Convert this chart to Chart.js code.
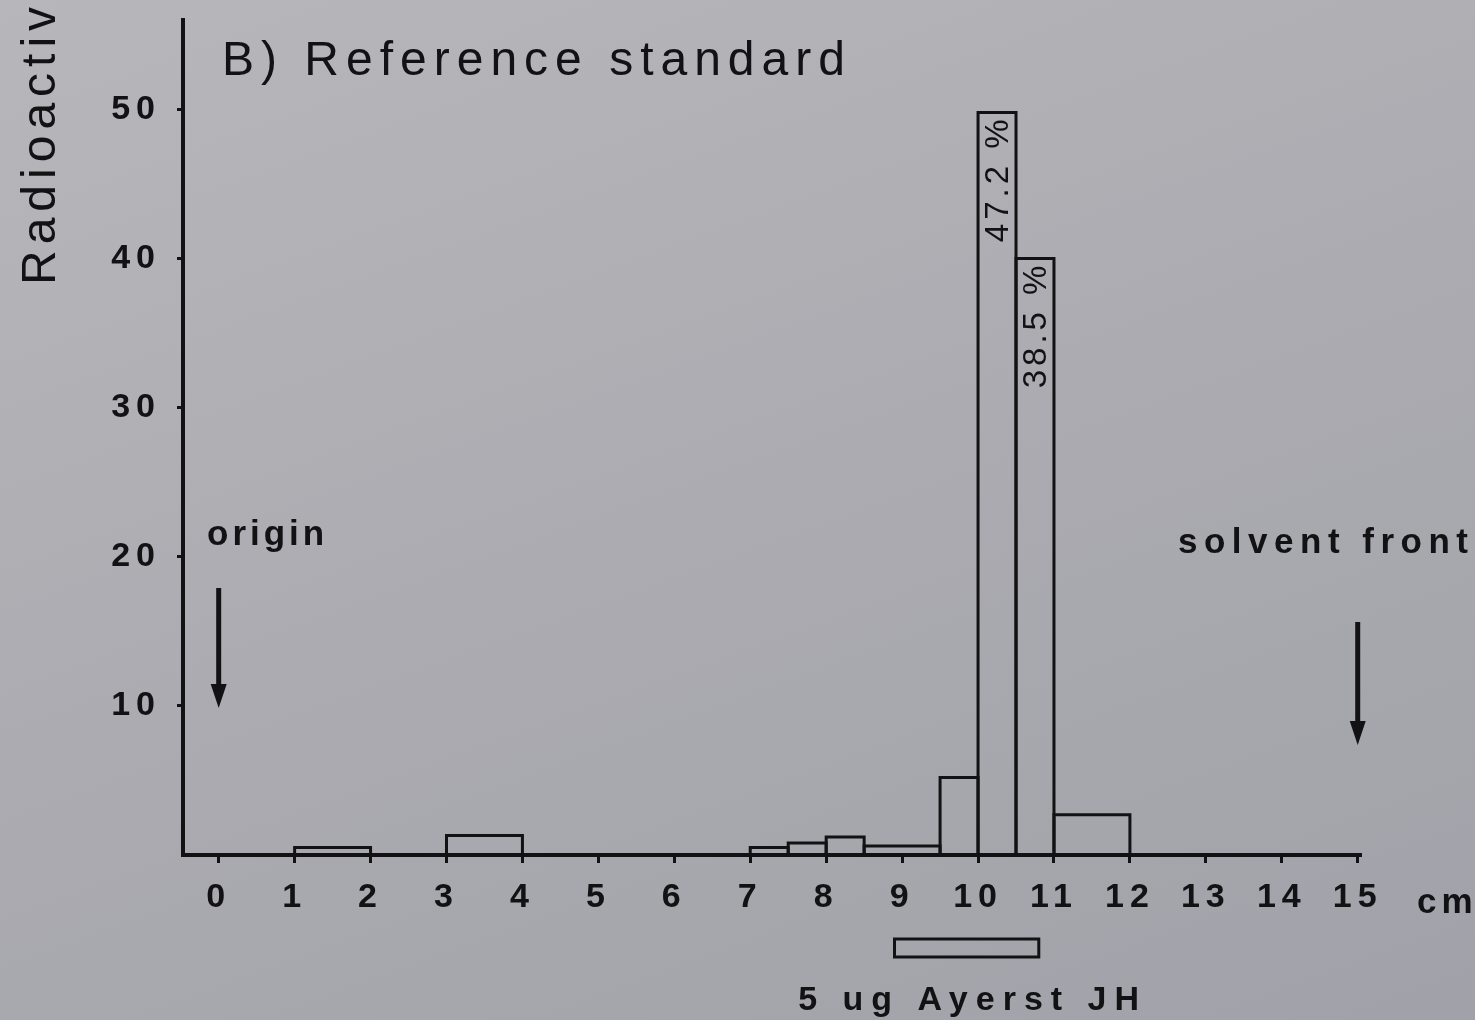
<!DOCTYPE html>
<html>
<head>
<meta charset="utf-8">
<script src="https://cdn.jsdelivr.net/npm/chart.js@4.4.1/dist/chart.umd.min.js"></script>
<style>
  html, body { margin: 0; padding: 0; }
  body { width: 1475px; height: 1020px; overflow: hidden;
         background: linear-gradient(160deg, #b7b7bb 0%, #ababb1 50%, #a1a1a9 100%); }
  #wrap { position: relative; width: 1475px; height: 1020px; }
</style>
</head>
<body>
<div id="wrap"><canvas id="c"></canvas></div>
<script>
// ---- data ----
const binStart = [1, 3, 7, 7.5, 8, 8.5, 9.5, 10, 10.5, 11];
const binEnd   = [2, 4, 7.5, 8, 8.5, 9.5, 10, 10.5, 11, 12];
const radioactivity = [0.5, 1.3, 0.5, 0.8, 1.2, 0.6, 5.2, 49.8, 40.0, 2.7];
const peakLabels = ['', '', '', '', '', '', '', '47.2 %', '38.5 %', ''];
const xTicks = [0, 1, 2, 3, 4, 5, 6, 7, 8, 9, 10, 11, 12, 13, 14, 15];
const yTicks = [10, 20, 30, 40, 50];
const standardBand = [8.9, 10.8];     // "5 ug Ayerst JH" marker (cm)
const originPos = 0;                  // cm
const solventFrontPos = 15;           // cm

const titleText = 'B) Reference standard';
const yTitleText = 'Radioactivity (%)';
const bandText = '5 ug Ayerst JH';
const unitText = 'cm';

// ---- styling ----
const ink = '#121214';
const fam = '"Liberation Sans", Arial, Helvetica, sans-serif';

const datasets = binStart.map((s, i) => {
  const e = binEnd[i], v = radioactivity[i];
  return {
    data: [{x: s, y: 0}, {x: s, y: v}, {x: e, y: v}, {x: e, y: 0}],
    showLine: true, borderColor: ink, borderWidth: 3, pointRadius: 0,
    fill: false, tension: 0, clip: 6, borderJoinStyle: 'miter'
  };
});

function arrow(ctx, px, yTop, yTip) {
  ctx.lineWidth = 5;
  ctx.beginPath(); ctx.moveTo(px, yTop); ctx.lineTo(px, yTip - 18); ctx.stroke();
  ctx.beginPath(); ctx.moveTo(px - 8, yTip - 24); ctx.lineTo(px + 8, yTip - 24); ctx.lineTo(px, yTip); ctx.closePath(); ctx.fill();
}

const annot = {
  id: 'annot',
  beforeDraw(chart) { chart.ctx.letterSpacing = '6px'; },
  afterDraw(chart) {
    const {ctx, scales: {x, y}, chartArea} = chart;
    ctx.save();
    ctx.fillStyle = ink; ctx.strokeStyle = ink;
    ctx.textBaseline = 'alphabetic';

    // title
    ctx.letterSpacing = '7px';
    ctx.font = '48px ' + fam; ctx.textAlign = 'left';
    ctx.fillText(titleText, 222, 75);

    // y title (rotated, cut at top)
    ctx.save();
    ctx.translate(55, 285); ctx.rotate(-Math.PI / 2);
    ctx.letterSpacing = '6px';
    ctx.font = '48px ' + fam; ctx.textAlign = 'left';
    ctx.fillText(yTitleText, 0, 0);
    ctx.restore();

    // peak percentage labels
    ctx.letterSpacing = '4px';
    ctx.font = '33px ' + fam;
    peakLabels.forEach((t, i) => {
      if (!t) return;
      const cx = x.getPixelForValue((binStart[i] + binEnd[i]) / 2);
      const ty = y.getPixelForValue(radioactivity[i]) + 3;
      ctx.save();
      ctx.translate(cx + 11, ty); ctx.rotate(-Math.PI / 2);
      ctx.textAlign = 'right';
      ctx.fillText(t, 0, 0);
      ctx.restore();
    });

    // origin
    ctx.font = 'bold 35px ' + fam; ctx.letterSpacing = '4px'; ctx.textAlign = 'left';
    ctx.fillText('origin', 207, 545);
    arrow(ctx, x.getPixelForValue(originPos), 588, 708);

    // solvent front
    ctx.letterSpacing = '6.5px';
    ctx.fillText('solvent front', 1178, 553);
    arrow(ctx, x.getPixelForValue(solventFrontPos), 622, 745);

    // cm unit
    ctx.font = 'bold 35px ' + fam; ctx.letterSpacing = '5px';
    ctx.fillText(unitText, 1417, 913);

    // standard band box
    const bx0 = x.getPixelForValue(standardBand[0]);
    const bx1 = x.getPixelForValue(standardBand[1]);
    ctx.lineWidth = 3;
    ctx.strokeRect(bx0, chartArea.bottom + 84, bx1 - bx0, 18);
    ctx.font = 'bold 34px ' + fam; ctx.letterSpacing = '8px'; ctx.textAlign = 'center';
    ctx.fillText(bandText, (bx0 + bx1) / 2 + 6, 1010);

    ctx.restore();
  }
};

const tickFontX = {family: fam, size: 34, weight: 'bold'};
const tickFontY = {family: fam, size: 34, weight: 'bold', lineHeight: 0.1};

new Chart(document.getElementById('c'), {
  type: 'scatter',
  data: {datasets},
  options: {
    responsive: true, maintainAspectRatio: false, animation: false,
    layout: {padding: {top: 20, left: 0, right: 115, bottom: 105}},
    plugins: {legend: {display: false}, tooltip: {enabled: false}},
    scales: {
      x: {
        type: 'linear', min: -0.47, max: 15.03,
        afterBuildTicks(s) { s.ticks = xTicks.map(v => ({value: v})); },
        afterFit(s) { s.height = 60; },
        ticks: {autoSkip: false, maxRotation: 0, padding: 14, color: ink, font: tickFontX,
                callback: v => String(v)},
        grid: {drawOnChartArea: false, drawTicks: true, tickLength: 8, color: ink, lineWidth: 3},
        border: {display: true, color: ink, width: 4}
      },
      y: {
        type: 'linear', min: 0, max: 56,
        afterBuildTicks(s) { s.ticks = yTicks.map(v => ({value: v})); },
        afterFit(s) { s.width = 183; },
        ticks: {autoSkip: false, padding: 16, color: ink, font: tickFontY, callback: v => String(v)},
        grid: {drawOnChartArea: false, drawTicks: true, tickLength: 6, color: ink, lineWidth: 3},
        border: {display: true, color: ink, width: 4}
      }
    }
  },
  plugins: [annot]
});
</script>
</body>
</html>
